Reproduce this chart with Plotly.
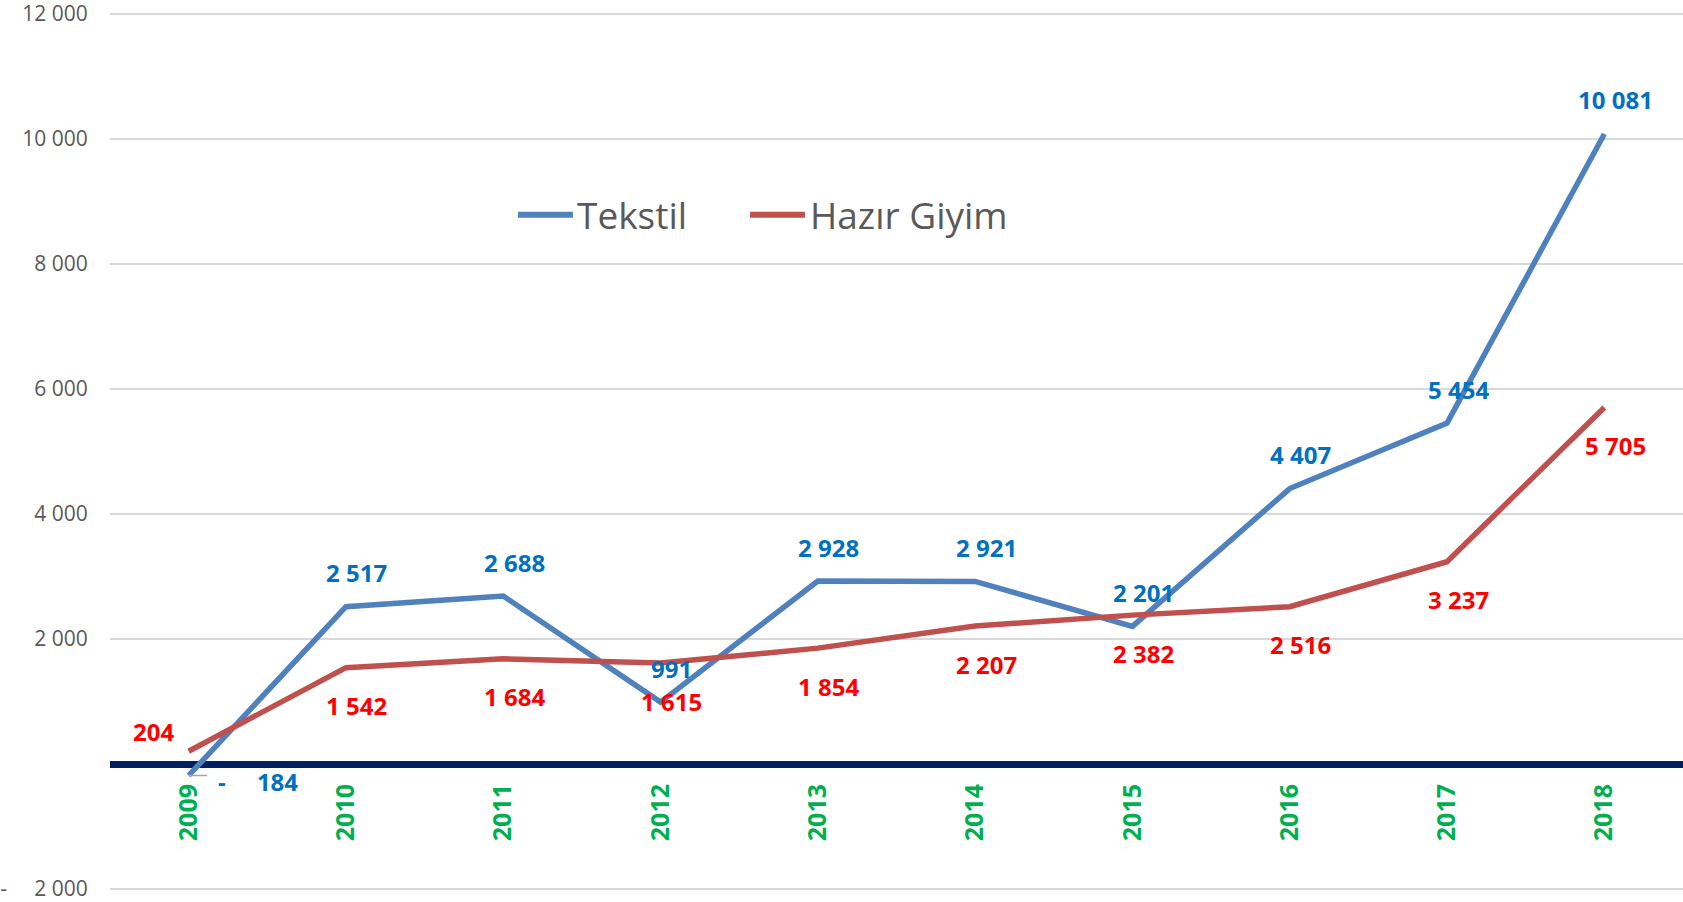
import plotly.graph_objects as go

years = ["2009", "2010", "2011", "2012", "2013", "2014", "2015", "2016", "2017", "2018"]
tekstil = [-184, 2517, 2688, 991, 2928, 2921, 2201, 4407, 5454, 10081]
hazir_giyim = [204, 1542, 1684, 1615, 1854, 2207, 2382, 2516, 3237, 5705]
y_tickvals = [-2000, 2000, 4000, 6000, 8000, 10000, 12000]
y_ticktext = ["-\u00a0\u00a0\u00a0\u00a0\u00a02\u00a0000", "2\u00a0000", "4\u00a0000", "6\u00a0000",
              "8\u00a0000", "10\u00a0000", "12\u00a0000"]

BLUE = "#4F81BD"
RED = "#C0504D"
BLUE_TXT = "#0070C0"
RED_TXT = "#FF0000"
FONT = "Open Sans"


def fmt(v):
    if v < 0:
        return "-\u00a0\u00a0\u00a0\u00a0\u00a0" + f"{abs(v):,}".replace(",", "\u00a0")
    return f"{v:,}".replace(",", "\u00a0")


fig = go.Figure()
fig.add_trace(go.Scatter(x=years, y=tekstil, mode="lines", name="Tekstil",
                         line=dict(color=BLUE, width=5.5), showlegend=False, hoverinfo="skip"))
fig.add_trace(go.Scatter(x=years, y=hazir_giyim, mode="lines", name="Hazır Giyim",
                         line=dict(color=RED, width=5.5), showlegend=False, hoverinfo="skip"))

lab_font_b = dict(family=FONT, size=24, color=BLUE_TXT, weight="bold")
lab_font_r = dict(family=FONT, size=24, color=RED_TXT, weight="bold")
annotations = []
for i, v in enumerate(tekstil):
    if i == 0:
        annotations.append(dict(x=i, y=v, xref="x", yref="y", text="", showarrow=True, arrowhead=0,
                                arrowwidth=1.5, arrowcolor="#A6A6A6", ax=20, ay=0))
        annotations.append(dict(x=i, y=v, xref="x", yref="y", text=fmt(v), showarrow=False,
                                xanchor="left", xshift=27, yshift=-6, font=lab_font_b))
    else:
        annotations.append(dict(x=i, y=v, xref="x", yref="y", text=fmt(v), showarrow=False,
                                xshift=11, yshift=34, font=lab_font_b))
for i, v in enumerate(hazir_giyim):
    if i == 0:
        annotations.append(dict(x=i, y=v, xref="x", yref="y", text=fmt(v), showarrow=False,
                                xshift=-35, yshift=20, font=lab_font_r))
    else:
        annotations.append(dict(x=i, y=v, xref="x", yref="y", text=fmt(v), showarrow=False,
                                xshift=11, yshift=-38, font=lab_font_r))

# custom legend
legend_items = [("Tekstil", BLUE, 0.2594, 0.2943, 0.2953), ("Hazır Giyim", RED, 0.4069, 0.4418, 0.4435)]
shapes = []
for name, col, x0, x1, xt in legend_items:
    shapes.append(dict(type="line", xref="paper", yref="paper", x0=x0, x1=x1, y0=0.768, y1=0.768,
                       line=dict(color=col, width=6)))
    annotations.append(dict(xref="paper", yref="paper", x=xt, y=0.768, text=name, showarrow=False,
                            xanchor="left", yanchor="middle",
                            font=dict(family=FONT, size=37, color="#595959")))

fig.update_layout(
    width=1683, height=902,
    margin=dict(l=110, r=0, t=10, b=9),
    plot_bgcolor="white", paper_bgcolor="white",
    font=dict(family=FONT),
    annotations=annotations,
    shapes=shapes,
    xaxis=dict(type="category", range=[-0.5, 9.5], showgrid=False, showline=False, zeroline=False,
               anchor="free", position=2064 / 14128, tickangle=-90, ticks="", ticklabelstandoff=14,
               tickfont=dict(family=FONT, size=25, color="#00B050", weight="bold")),
    yaxis=dict(range=[-2064, 12064], tickvals=y_tickvals, ticktext=y_ticktext,
               showgrid=True, gridcolor="#D9D9D9", gridwidth=1.5,
               zeroline=True, zerolinecolor="#002060", zerolinewidth=7,
               showline=False, ticks="outside", ticklen=17, tickcolor="rgba(0,0,0,0)",
               ticklabeloverflow="allow",
               tickfont=dict(family=FONT, size=21, color="#595959")),
)

fig.write_html("out.html", config={"displayModeBar": False},
               post_script="document.body.style.margin='0';document.body.style.overflow='hidden';")
